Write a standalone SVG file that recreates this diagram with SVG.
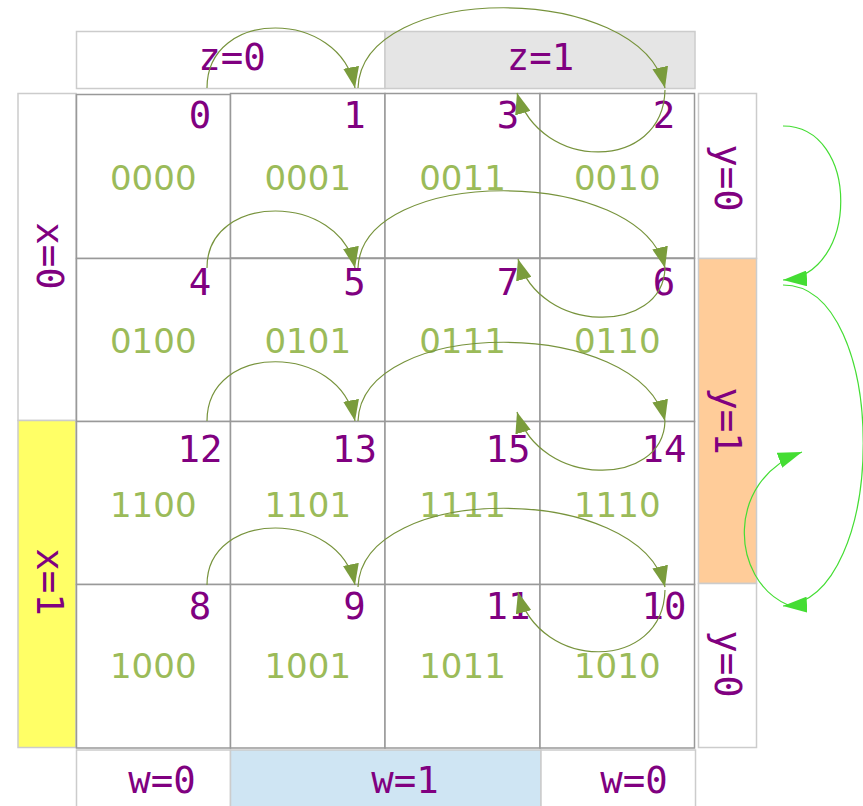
<svg xmlns="http://www.w3.org/2000/svg" width="863" height="806" viewBox="0 0 863 806">
<style>
.hdr{stroke:#cccccc;stroke-width:1.5}
.cell{fill:#ffffff;stroke:#999999;stroke-width:1.5}
.lbl{font-family:"DejaVu Sans Mono",monospace;font-size:37.33px;fill:#800080;text-anchor:middle}
.code{font-family:"DejaVu Sans",sans-serif;font-size:34px;fill:#9bbb59;text-anchor:middle}
.arc{fill:none;stroke:#77933c;stroke-width:1.2;marker-end:url(#ah)}
.garc{fill:none;stroke:#44dd33;stroke-width:1.2;marker-end:url(#gh)}
</style>
<defs>
<marker id="ah" markerUnits="userSpaceOnUse" viewBox="0 0 21 16" markerWidth="21" markerHeight="16" refX="21" refY="8" orient="auto"><path d="M0,0 L21,8 L0,16 z" fill="#7a9c3c"/></marker>
<marker id="gh" markerUnits="userSpaceOnUse" viewBox="0 0 24 16" markerWidth="24" markerHeight="16" refX="24" refY="8" orient="auto"><path d="M0,0 L24,8 L0,16 z" fill="#44dd33"/></marker>
</defs>
<rect width="863" height="806" fill="#ffffff"/>

<g id="hdr-z0"><rect class="hdr" x="76.5" y="31.5" width="308.5" height="57" fill="#ffffff"/><text class="lbl" x="232" y="70">z=0</text></g>
<g id="hdr-z1"><rect class="hdr" x="385" y="31.5" width="310" height="57" fill="#e5e5e5"/><text class="lbl" x="540.5" y="70">z=1</text></g>

<g id="hdr-x0"><rect class="hdr" x="18" y="93.5" width="58" height="327" fill="#ffffff"/><text class="lbl" transform="translate(37,256) rotate(90)">x=0</text></g>
<g id="hdr-x1"><rect class="hdr" x="18" y="420.5" width="58" height="327" fill="#ffff66"/><text class="lbl" transform="translate(37,582) rotate(90)">x=1</text></g>

<g id="hdr-y0a"><rect class="hdr" x="698.5" y="93.5" width="58" height="165" fill="#ffffff"/><text class="lbl" transform="translate(715,178) rotate(90)">y=0</text></g>
<g id="hdr-y1"><rect class="hdr" x="698.5" y="258.5" width="58" height="325" fill="#ffcc99"/><text class="lbl" transform="translate(715,421) rotate(90)">y=1</text></g>
<g id="hdr-y0b"><rect class="hdr" x="698.5" y="583.5" width="58" height="164" fill="#ffffff"/><text class="lbl" transform="translate(715,664) rotate(90)">y=0</text></g>

<g id="hdr-w0a"><rect class="hdr" x="76.5" y="750" width="154" height="60" fill="#ffffff"/><text class="lbl" x="162" y="793">w=0</text></g>
<g id="hdr-w1"><rect class="hdr" x="230.5" y="750" width="310.5" height="60" fill="#cfe5f3"/><text class="lbl" x="405" y="793">w=1</text></g>
<g id="hdr-w0b"><rect class="hdr" x="541" y="750" width="154.5" height="60" fill="#ffffff"/><text class="lbl" x="634" y="793">w=0</text></g>

<g id="cell-0"><rect class="cell" x="76.5" y="94.5" width="154" height="164"/><text class="lbl" x="200" y="128">0</text><text class="code" x="153.25" y="190">0000</text></g>
<g id="cell-1"><rect class="cell" x="230.5" y="93.5" width="154.5" height="164.5"/><text class="lbl" x="354.5" y="128">1</text><text class="code" x="307.75" y="190">0001</text></g>
<g id="cell-3"><rect class="cell" x="385" y="93.5" width="155" height="164.5"/><text class="lbl" x="508" y="128">3</text><text class="code" x="462.5" y="190">0011</text></g>
<g id="cell-2"><rect class="cell" x="540" y="93.5" width="154.5" height="164.5"/><text class="lbl" x="664" y="128">2</text><text class="code" x="617.25" y="190">0010</text></g>

<g id="cell-4"><rect class="cell" x="76.5" y="258.5" width="154" height="163"/><text class="lbl" x="200" y="295">4</text><text class="code" x="153.25" y="353">0100</text></g>
<g id="cell-5"><rect class="cell" x="230.5" y="258.5" width="154.5" height="163"/><text class="lbl" x="354.5" y="295">5</text><text class="code" x="307.75" y="353">0101</text></g>
<g id="cell-7"><rect class="cell" x="385" y="258.5" width="155" height="163"/><text class="lbl" x="508" y="295">7</text><text class="code" x="462.5" y="353">0111</text></g>
<g id="cell-6"><rect class="cell" x="540" y="258.5" width="154.5" height="163"/><text class="lbl" x="664" y="295">6</text><text class="code" x="617.25" y="353">0110</text></g>

<g id="cell-12"><rect class="cell" x="76.5" y="421.5" width="154" height="163"/><text class="lbl" x="200" y="462">12</text><text class="code" x="153.25" y="517">1100</text></g>
<g id="cell-13"><rect class="cell" x="230.5" y="421.5" width="154.5" height="163"/><text class="lbl" x="354.5" y="462">13</text><text class="code" x="307.75" y="517">1101</text></g>
<g id="cell-15"><rect class="cell" x="385" y="421.5" width="155" height="163"/><text class="lbl" x="508" y="462">15</text><text class="code" x="462.5" y="517">1111</text></g>
<g id="cell-14"><rect class="cell" x="540" y="421.5" width="154.5" height="163"/><text class="lbl" x="664" y="462">14</text><text class="code" x="617.25" y="517">1110</text></g>

<g id="cell-8"><rect class="cell" x="76.5" y="584.5" width="154" height="163.5"/><text class="lbl" x="200" y="619">8</text><text class="code" x="153.25" y="678">1000</text></g>
<g id="cell-9"><rect class="cell" x="230.5" y="584.5" width="154.5" height="163.5"/><text class="lbl" x="354.5" y="619">9</text><text class="code" x="307.75" y="678">1001</text></g>
<g id="cell-11"><rect class="cell" x="385" y="584.5" width="155" height="163.5"/><text class="lbl" x="508" y="619">11</text><text class="code" x="462.5" y="678">1011</text></g>
<g id="cell-10"><rect class="cell" x="540" y="584.5" width="154.5" height="163.5"/><text class="lbl" x="664" y="619">10</text><text class="code" x="617.25" y="678">1010</text></g>

<g id="connectors">
<path class="arc" d="M207,88 C207,8 340,8 355,88"/>
<path class="arc" d="M358,88 C362,-19 640,-19 665,88"/>
<path class="arc" d="M665,90 C663,172 540,172 517,93"/>
<path class="arc" d="M207,268 C207,192 340,192 355,268"/>
<path class="arc" d="M358,268 C362,165 640,165 665,268"/>
<path class="arc" d="M665,268 C663,335 540,335 518,259"/>
<path class="arc" d="M207,421 C207,342 340,342 355,421"/>
<path class="arc" d="M358,421 C362,316 640,316 665,421"/>
<path class="arc" d="M665,421 C663,488 540,488 517,412"/>
<path class="arc" d="M207,585 C207,509 340,509 355,585"/>
<path class="arc" d="M358,587 C362,482 640,482 665,587"/>
<path class="arc" d="M665,590 C663,672 540,672 518,592"/>
<path class="garc" d="M783,126 C860,126 860,275 783,280"/>
<path class="garc" d="M783,285 C890,285 890,600 783,606"/>
<path class="garc" d="M788,605 C730,580 725,480 802,452"/>
</g>
</svg>
